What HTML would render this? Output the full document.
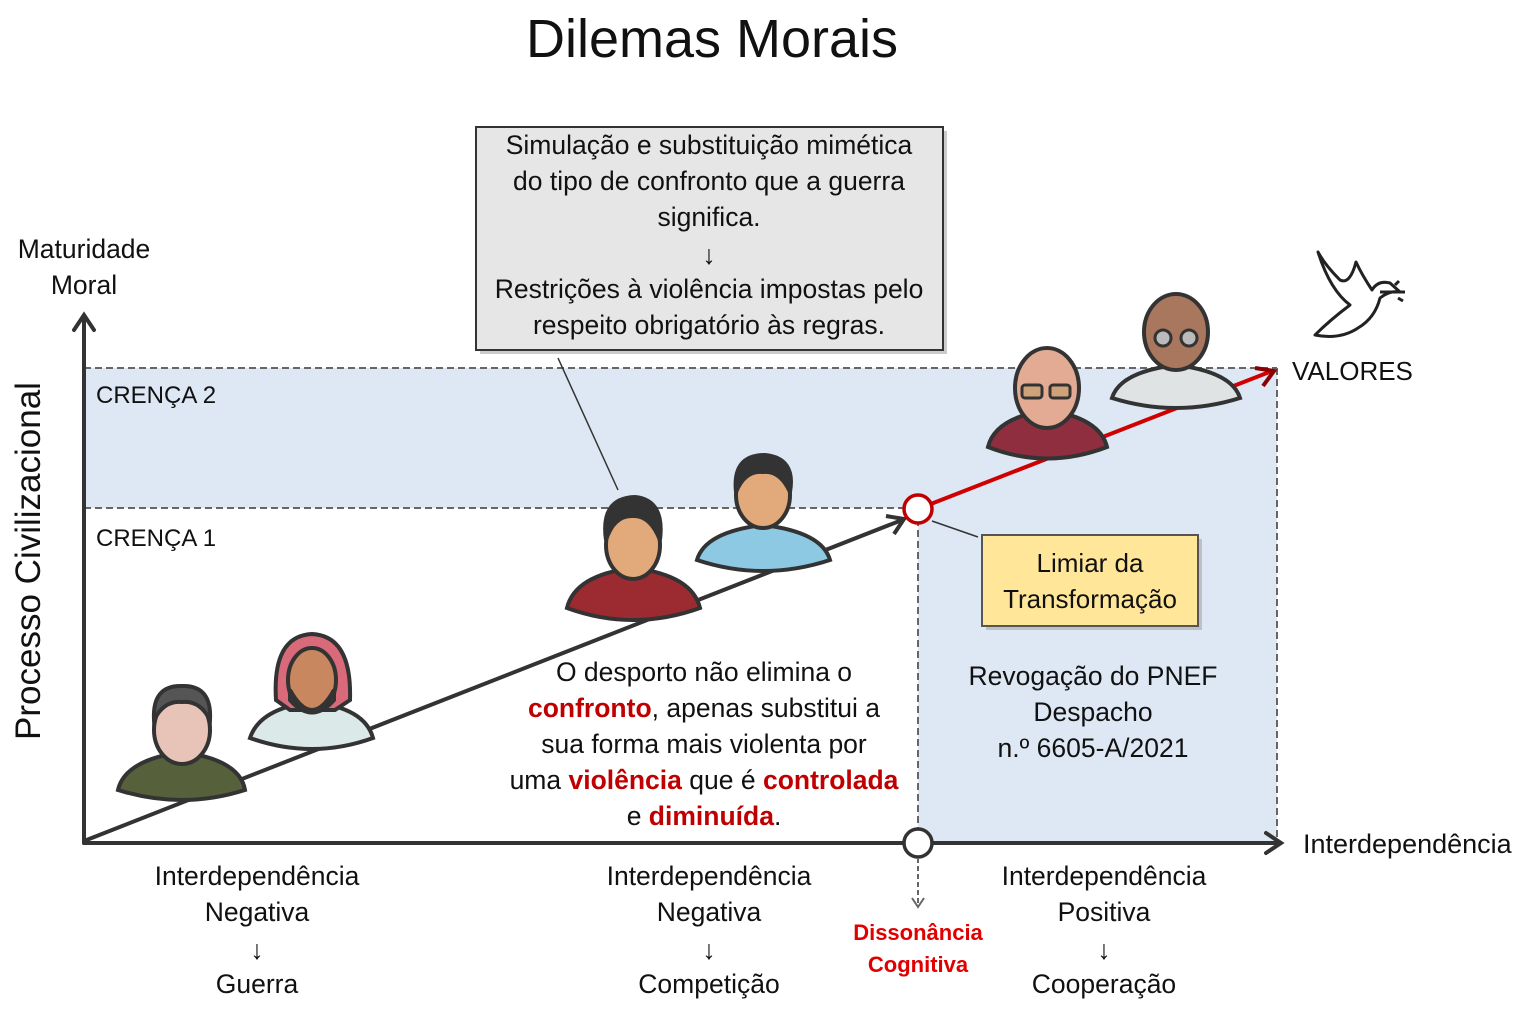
<!DOCTYPE html>
<html><head><meta charset="utf-8"><style>
html,body{margin:0;padding:0;background:#fff;}
svg{display:block;font-family:"Liberation Sans",sans-serif;}
</style></head><body>
<svg width="1530" height="1030" viewBox="0 0 1530 1030" xmlns="http://www.w3.org/2000/svg">
<text x="712" y="57" font-size="54" text-anchor="middle" fill="#111">Dilemas Morais</text>

<!-- bands -->
<rect x="84" y="368" width="1193" height="140" fill="#dde8f4"/>
<rect x="918" y="508" width="359" height="335" fill="#dde8f4"/>
<g stroke="#666" stroke-width="2" stroke-dasharray="7,4" fill="none">
<line x1="84" y1="368" x2="1277" y2="368"/>
<line x1="84" y1="508" x2="918" y2="508"/>
<line x1="1277" y1="368" x2="1277" y2="843"/>
<line x1="918" y1="508" x2="918" y2="843"/>
</g>
<text x="96" y="403" font-size="24" fill="#111">CRENÇA 2</text>
<text x="96" y="546" font-size="24" fill="#111">CRENÇA 1</text>

<!-- axes -->
<g stroke="#333" stroke-width="4" fill="none" stroke-linecap="round">
<line x1="84" y1="843" x2="84" y2="318"/>
<polyline points="74,330 84,315 94,330"/>
<line x1="84" y1="843" x2="1280" y2="843"/>
<polyline points="1266,833 1281,843 1266,853"/>
</g>
<text x="84" y="258" font-size="26.5" text-anchor="middle" fill="#111">Maturidade</text>
<text x="84" y="294" font-size="26.5" text-anchor="middle" fill="#111">Moral</text>
<text transform="translate(40,561) rotate(-90)" font-size="35" text-anchor="middle" fill="#111">Processo Civilizacional</text>
<text x="1303" y="853" font-size="27" fill="#111">Interdependência</text>

<!-- trend lines -->
<line x1="84" y1="841" x2="902" y2="520" stroke="#333" stroke-width="4"/>
<polyline points="886,516 904,519 894,534" fill="none" stroke="#333" stroke-width="4"/>
<line x1="918" y1="509" x2="1272" y2="371" stroke="#d00000" stroke-width="4"/>
<polyline points="1255,368 1274,371 1263,386" fill="none" stroke="#8b0000" stroke-width="4"/>

<!-- circles -->
<circle cx="918" cy="509" r="14" fill="#fff" stroke="#c00000" stroke-width="3.5"/>
<circle cx="918" cy="843" r="14" fill="#fff" stroke="#333" stroke-width="3.5"/>
<line x1="918" y1="858" x2="918" y2="905" stroke="#666" stroke-width="2" stroke-dasharray="5,3"/>
<polyline points="912,898 918,907 924,898" fill="none" stroke="#666" stroke-width="2"/>

<!-- gray box -->
<rect x="480" y="131" width="467" height="223" fill="#999" opacity="0.5"/>
<rect x="476" y="127" width="467" height="223" fill="#e6e6e6" stroke="#333" stroke-width="2"/>
<g font-size="26.5" text-anchor="middle" fill="#111">
<text x="709" y="154">Simulação e substituição mimética</text>
<text x="709" y="190">do tipo de confronto que a guerra</text>
<text x="709" y="226">significa.</text>
<text x="709" y="264">↓</text>
<text x="709" y="298">Restrições à violência impostas pelo</text>
<text x="709" y="334">respeito obrigatório às regras.</text>
</g>
<line x1="558" y1="358" x2="618" y2="490" stroke="#333" stroke-width="1.5"/>

<!-- yellow box -->
<line x1="932" y1="521" x2="978" y2="537" stroke="#333" stroke-width="1.5"/>
<rect x="986" y="539" width="216" height="91" fill="#999" opacity="0.5"/>
<rect x="982" y="535" width="216" height="91" fill="#ffe699" stroke="#555" stroke-width="2"/>
<text x="1090" y="572" font-size="26" text-anchor="middle" fill="#111">Limiar da</text>
<text x="1090" y="608" font-size="26" text-anchor="middle" fill="#111">Transformação</text>

<g font-size="26.5" text-anchor="middle" fill="#111">
<text x="1093" y="685">Revogação do PNEF</text>
<text x="1093" y="721">Despacho</text>
<text x="1093" y="757">n.º 6605-A/2021</text>
</g>

<g font-size="26.5" text-anchor="middle" fill="#111">
<text x="704" y="681">O desporto não elimina o</text>
<text x="704" y="717"><tspan fill="#c00000" font-weight="bold">confronto</tspan>, apenas substitui a</text>
<text x="704" y="753">sua forma mais violenta por</text>
<text x="704" y="789">uma <tspan fill="#c00000" font-weight="bold">violência</tspan> que é <tspan fill="#c00000" font-weight="bold">controlada</tspan></text>
<text x="704" y="825">e <tspan fill="#c00000" font-weight="bold">diminuída</tspan>.</text>
</g>

<g font-size="26.5" text-anchor="middle" fill="#111">
<text x="257" y="885">Interdependência</text>
<text x="257" y="921">Negativa</text>
<text x="257" y="959">↓</text>
<text x="257" y="993">Guerra</text>
<text x="709" y="885">Interdependência</text>
<text x="709" y="921">Negativa</text>
<text x="709" y="959">↓</text>
<text x="709" y="993">Competição</text>
<text x="1104" y="885">Interdependência</text>
<text x="1104" y="921">Positiva</text>
<text x="1104" y="959">↓</text>
<text x="1104" y="993">Cooperação</text>
</g>
<text x="918" y="940" font-size="22" font-weight="bold" text-anchor="middle" fill="#e00000">Dissonância</text>
<text x="918" y="972" font-size="22" font-weight="bold" text-anchor="middle" fill="#e00000">Cognitiva</text>

<text x="1292" y="380" font-size="26" fill="#111">VALORES</text>
<!-- dove -->
<g fill="none" stroke="#222" stroke-width="3" stroke-linejoin="round">
<path d="M1318,252 Q1330,290 1350,305 Q1330,320 1315,335 Q1340,340 1358,328 Q1375,318 1380,298 Q1390,290 1400,292 L1390,283 Q1378,280 1372,290 Q1362,275 1356,262 Q1350,285 1340,280 Q1325,265 1318,252 Z"/>
<path d="M1380,292 L1405,292 M1395,285 l4,-4 M1398,298 l5,3"/>
</g>

<!-- avatars -->
<g stroke="#333" stroke-width="4">
<path d="M118,790 Q125,760 182,752 Q240,760 245,790 Q182,810 118,790 Z" fill="#56603a"/>
<ellipse cx="182" cy="730" rx="28" ry="34" fill="#e8c4b8"/>
<path d="M154,720 Q152,685 182,686 Q212,685 210,720 Q200,700 182,702 Q164,700 154,720Z" fill="#555"/>
<path d="M250,738 Q260,708 312,702 Q365,708 373,738 Q312,760 250,738 Z" fill="#dbe9e8"/>
<path d="M276,700 Q272,636 312,634 Q352,636 350,700 L335,710 L290,710Z" fill="#d86a7a"/>
<ellipse cx="312" cy="680" rx="24" ry="32" fill="#c8875f"/>
<path d="M290,690 Q312,730 334,690 L334,700 Q312,725 290,700Z" fill="#333"/>
<path d="M567,608 Q575,575 633,568 Q692,575 700,608 Q633,632 567,608 Z" fill="#9b2b30"/>
<ellipse cx="633" cy="545" rx="27" ry="34" fill="#e2a97a"/>
<path d="M606,540 Q600,498 635,497 Q665,500 660,540 Q650,515 633,516 Q614,515 606,540Z" fill="#333"/>
<path d="M697,560 Q705,532 763,525 Q822,532 830,560 Q763,582 697,560 Z" fill="#8ec9e3"/>
<ellipse cx="763" cy="495" rx="27" ry="33" fill="#e2a97a"/>
<path d="M736,492 Q732,455 765,455 Q796,458 790,492 Q780,470 763,472 Q745,470 736,492Z" fill="#333"/>
<path d="M988,447 Q995,418 1047,410 Q1100,418 1107,447 Q1047,470 988,447 Z" fill="#8f2e3f"/>
<ellipse cx="1047" cy="388" rx="32" ry="40" fill="#e3ab93"/>
<rect x="1022" y="385" width="20" height="13" rx="3" fill="#cfa27a" stroke-width="3"/>
<rect x="1050" y="385" width="20" height="13" rx="3" fill="#cfa27a" stroke-width="3"/>
<path d="M1112,398 Q1120,372 1176,365 Q1232,372 1240,398 Q1176,418 1112,398 Z" fill="#dfe3e3"/>
<ellipse cx="1176" cy="332" rx="32" ry="38" fill="#a8775e"/>
<circle cx="1163" cy="338" r="8" fill="#bbb" stroke-width="3"/>
<circle cx="1189" cy="338" r="8" fill="#bbb" stroke-width="3"/>
</g>
</svg>
</body></html>
